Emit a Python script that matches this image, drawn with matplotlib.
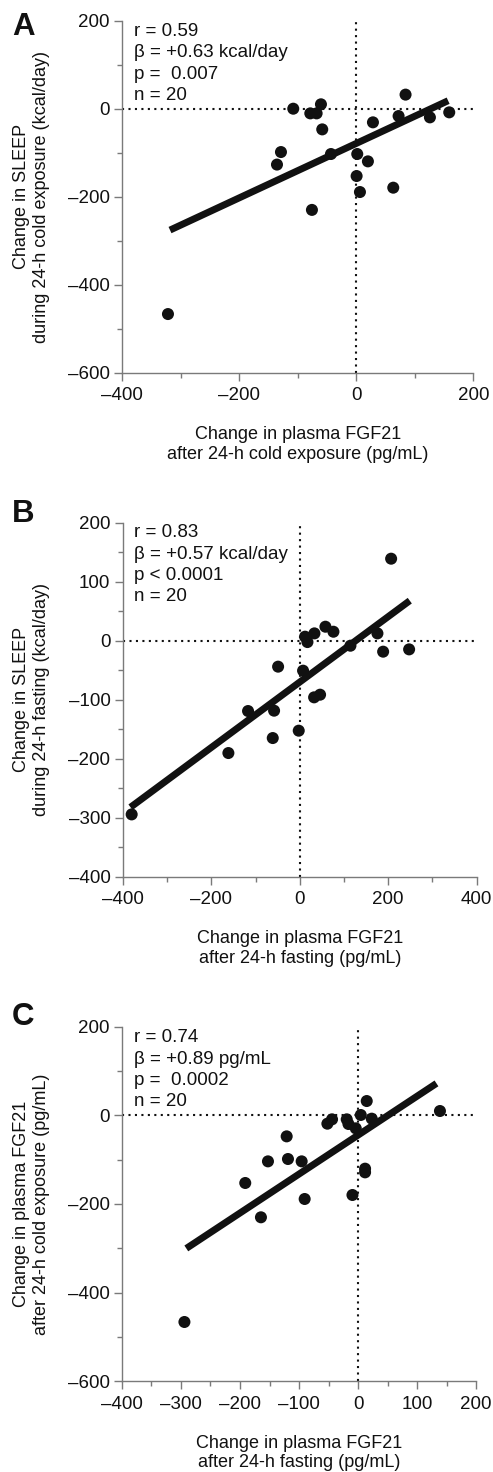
import numpy as np
import matplotlib
matplotlib.use("Agg")
import matplotlib.pyplot as plt
from matplotlib.ticker import FixedLocator, FuncFormatter

plt.rcParams['font.family'] = ['Liberation Sans', 'DejaVu Sans']

# ---------------- data ----------------
# Panel A: FGF21 change after cold (x) vs SLEEP change during cold (y)
a_x = [-321.5, -107.5, -78.4, -67.6, -60.2, -58.0, -43.1, -128.5, -135.3, -75.6,
       1.8, 0.7, 6.4, 20.0, 28.6, 63.3, 72.4, 84.3, 125.9, 158.9]
a_y = [-466.7, 0.0, -10.6, -10.6, 10.0, -47.0, -103.0, -98.5, -127.0, -230.0,
       -103.0, -153.0, -189.4, -119.7, -31.0, -179.5, -16.7, 32.0, -19.7, -8.3]
a_fit_slope, a_fit_intercept = 0.619, -79.0
a_fit_x = [-318, 157]
a_stats = ["r = 0.59", "\u03b2 = +0.63 kcal/day", "p =  0.007", "n = 20"]

# Panel B: FGF21 change after fasting (x) vs SLEEP change during fasting (y)
b_x = [-380.4, -161.5, -117.0, -58.1, -61.1, -49.0, -2.3, 7.5, 12.0, 17.4,
       33.2, 32.5, 46.0, 58.1, 76.2, 114.7, 175.8, 188.7, 206.8, 247.5]
b_y = [-294.4, -190.4, -119.2, -118.6, -165.0, -44.0, -152.5, -50.8, 6.8, -2.3,
       12.4, -96.0, -91.5, 23.7, 15.2, -8.5, 12.4, -18.6, 139.0, -14.7]
b_fit_slope, b_fit_intercept = 0.554, -70.1
b_fit_x = [-383, 249]
b_stats = ["r = 0.83", "\u03b2 = +0.57 kcal/day", "p < 0.0001", "n = 20"]

# Panel C: FGF21 change after fasting (x) vs FGF21 change after cold (y)
c_x = [-294.2, -191.1, -164.5, -152.6, -120.9, -118.7, -95.5, -90.4, -51.9, -44.0,
       -19.1, -16.2, -3.8, -9.4, 4.7, 12.0, 12.0, 14.8, 23.3, 138.9]
c_y = [-466.2, -152.6, -230.0, -103.8, -47.4, -98.5, -103.8, -188.7, -18.8, -9.0,
       -9.0, -19.5, -29.3, -179.7, 0.8, -120.3, -128.6, 32.3, -7.5, 9.8]
c_fit_slope, c_fit_intercept = 0.878, -44.7
c_fit_x = [-291, 133]
c_stats = ["r = 0.74", "\u03b2 = +0.89 pg/mL", "p =  0.0002", "n = 20"]

letters = ["A", "B", "C"]
x_labels = ["Change in plasma FGF21\nafter 24-h cold exposure (pg/mL)",
            "Change in plasma FGF21\nafter 24-h fasting (pg/mL)",
            "Change in plasma FGF21\nafter 24-h fasting (pg/mL)"]
y_labels = ["Change in SLEEP\nduring 24-h cold exposure (kcal/day)",
            "Change in SLEEP\nduring 24-h fasting (kcal/day)",
            "Change in plasma FGF21\nafter 24-h cold exposure (pg/mL)"]

# axis limits and ticks
a_xmajor, a_xminor = [-400, -200, 0, 200], [-300, -100, 100]
a_ymajor, a_yminor = [-600, -400, -200, 0, 200], [-500, -300, -100, 100]
b_xmajor, b_xminor = [-400, -200, 0, 200, 400], [-300, -100, 100, 300]
b_ymajor, b_yminor = [-400, -300, -200, -100, 0, 100, 200], [-350, -250, -150, -50, 50, 150]
c_xmajor, c_xminor = [-400, -300, -200, -100, 0, 100, 200], [-350, -250, -150, -50, 50, 150]
c_ymajor, c_yminor = [-600, -400, -200, 0, 200], [-500, -300, -100, 100]

W, H = 493, 1472
fig = plt.figure(figsize=(W / 100, H / 100), dpi=100)

# axes boxes in pixels: left, top, right, bottom
boxes = [(122, 20.7, 473.3, 372.7),
         (123, 522.7, 476.5, 876.7),
         (122, 1026.7, 476, 1381.3)]
letter_base = [35, 522, 1025]
first_base = [36, 537.3, 1042.3]

panels = [
    (a_x, a_y, a_fit_slope, a_fit_intercept, a_fit_x, a_stats, a_xmajor, a_xminor, a_ymajor, a_yminor),
    (b_x, b_y, b_fit_slope, b_fit_intercept, b_fit_x, b_stats, b_xmajor, b_xminor, b_ymajor, b_yminor),
    (c_x, c_y, c_fit_slope, c_fit_intercept, c_fit_x, c_stats, c_xmajor, c_xminor, c_ymajor, c_yminor),
]

spine_col = '#7a7a7a'
txt_col = '#111111'
fmt = FuncFormatter(lambda v, p: ("%d" % v).replace('-', '\u2013'))

for i, (px, py, sl, ic, fx, stats, xmaj, xmin, ymaj, ymin) in enumerate(panels):
    l, t, r, b = boxes[i]
    ax = fig.add_axes([l / W, 1 - b / H, (r - l) / W, (b - t) / H])
    ax.set_xlim(xmaj[0], xmaj[-1])
    ax.set_ylim(ymaj[0], ymaj[-1])
    for s in ['top', 'right']:
        ax.spines[s].set_visible(False)
    for s in ['left', 'bottom']:
        ax.spines[s].set_color(spine_col)
        ax.spines[s].set_linewidth(1.0)
    ax.xaxis.set_major_locator(FixedLocator(xmaj))
    ax.xaxis.set_minor_locator(FixedLocator(xmin))
    ax.yaxis.set_major_locator(FixedLocator(ymaj))
    ax.yaxis.set_minor_locator(FixedLocator(ymin))
    ax.xaxis.set_major_formatter(fmt)
    ax.yaxis.set_major_formatter(fmt)
    ax.tick_params(which='major', length=6, width=1.0, color=spine_col,
                   labelsize=13.5, labelcolor=txt_col, pad=3)
    ax.tick_params(axis='x', which='major', pad=4.5)
    ax.tick_params(which='minor', length=3.5, width=1.0, color=spine_col)
    ax.patch.set_visible(False)

    # zero reference lines
    ax.axhline(0, color='#111111', linestyle=(0, (1, 2.1)), linewidth=1.5, zorder=1)
    ax.axvline(0, color='#111111', linestyle=(0, (1, 2.1)), linewidth=1.5, zorder=1)

    # regression line
    fxa = np.array(fx, dtype=float)
    ax.plot(fxa, sl * fxa + ic, color='#111111', linewidth=5.0,
            solid_capstyle='butt', zorder=3)
    # points
    ax.scatter(px, py, s=75, color='#111111', edgecolors='none', zorder=4, clip_on=False)

    # stats text
    for k, s in enumerate(stats):
        base = first_base[i] + 21.3 * k
        ax.text(11.5 / (r - l), 1 - (base - t) / (b - t), s,
                transform=ax.transAxes, ha='left', va='baseline',
                fontsize=13.5, color=txt_col)

    # axis labels
    ax.text(0.5, -(444.5 - 372.7) / (b - t), x_labels[i], transform=ax.transAxes,
            ha='center', va='center', fontsize=13, color=txt_col, linespacing=1.2)
    ax.text((31.5 - l) / (r - l), 0.5, y_labels[i], transform=ax.transAxes,
            ha='center', va='center', rotation=90, fontsize=13, color=txt_col,
            linespacing=1.2)

    # panel letter
    fig.text(12 / W, 1 - letter_base[i] / H, letters[i], ha='left', va='baseline',
             fontsize=22.5, fontweight='bold', color='#111111')

fig.savefig("out.png", dpi=100)
